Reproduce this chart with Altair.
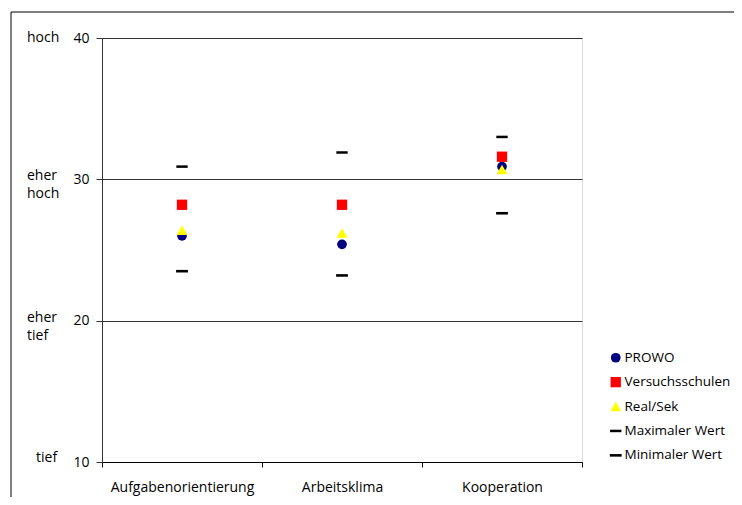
import altair as alt
import pandas as pd

categories = ["Aufgabenorientierung", "Arbeitsklima", "Kooperation"]
series_names = ["PROWO", "Versuchsschulen", "Real/Sek", "Maximaler Wert", "Minimaler Wert"]
prowo = [26.0, 25.4, 30.9]
versuchsschulen = [28.2, 28.2, 31.6]
realsek = [26.4, 26.2, 30.7]
maximaler = [30.9, 31.9, 33.0]
minimaler = [23.5, 23.2, 27.6]

y_ticks = [10, 20, 30, 40]
level_top_value = [40]
level_top_label = ["hoch"]
level_mid_values = [30, 20]
level_mid_labels = ["eher\nhoch", "eher\ntief"]
level_bottom_value = [10]
level_bottom_label = ["tief"]

colors = ["#000080", "#FF0000", "#FFFF00", "#000000", "#000000"]
dash = "M-1,-0.22H1V0.22H-1Z"
shapes = ["circle", "square", "triangle-up", dash, dash]
sizes = [95, 140, 150, 170, 170]

rows = []
for name, vals in zip(series_names, [prowo, versuchsschulen, realsek, maximaler, minimaler]):
    for c, v in zip(categories, vals):
        rows.append({"Kategorie": c, "Serie": name, "Wert": v})
df = pd.DataFrame(rows)

FONT = "Open Sans"

yscale = alt.Scale(domain=[10, 40], nice=False, zero=False)
xscale = alt.Scale(domain=categories, paddingInner=0, paddingOuter=0)

legend_opts = dict(title=None, orient="none", legendX=507, legendY=313,
                   labelFontSize=13.5, labelFont=FONT, labelColor="#000000",
                   symbolSize=140, rowPadding=9.4, labelOffset=2,
                   padding=0, symbolStrokeWidth=0)

points = alt.Chart(df).mark_point(filled=True, opacity=1, strokeWidth=0).encode(
    x=alt.X("Kategorie:N", scale=xscale, sort=categories,
            axis=alt.Axis(title=None, labelAngle=0, tickBand="extent", tickSize=5,
                          labelPadding=13, labelFontSize=14, labelColor="#000000",
                          labelFont=FONT, domainColor="#000000", tickColor="#000000",
                          grid=False)),
    y=alt.Y("Wert:Q", scale=yscale,
            axis=alt.Axis(title=None, values=y_ticks, tickSize=6, labelPadding=7,
                          labelFontSize=14, labelColor="#000000", labelFont=FONT,
                          domainColor="#333333", tickColor="#333333",
                          grid=True, gridColor="#333333", gridOpacity=1, gridWidth=1)),
    color=alt.Color("Serie:N", scale=alt.Scale(domain=series_names, range=colors),
                    legend=alt.Legend(**legend_opts)),
    shape=alt.Shape("Serie:N", scale=alt.Scale(domain=series_names, range=shapes),
                    legend=alt.Legend(**legend_opts)),
    size=alt.Size("Serie:N", scale=alt.Scale(domain=series_names, range=sizes), legend=None),
)

top_df = pd.DataFrame({"v": level_top_value, "t": level_top_label})
mid_df = pd.DataFrame({"v": level_mid_values, "t": level_mid_labels})
bot_df = pd.DataFrame({"v": level_bottom_value, "t": level_bottom_label})

top_text = alt.Chart(top_df).mark_text(align="left", baseline="middle", fontSize=14,
                                       font=FONT, color="#000000").encode(
    x=alt.value(-75), y=alt.Y("v:Q", scale=yscale), text="t:N")
mid_text = alt.Chart(mid_df).mark_text(align="left", baseline="middle", fontSize=14,
                                       font=FONT, color="#000000", lineBreak="\n",
                                       lineHeight=18, dy=-3).encode(
    x=alt.value(-75), y=alt.Y("v:Q", scale=yscale), text="t:N")
bot_text = alt.Chart(bot_df).mark_text(align="left", baseline="middle", fontSize=14,
                                       font=FONT, color="#000000", dy=-4).encode(
    x=alt.value(-66), y=alt.Y("v:Q", scale=yscale), text="t:N")

border = alt.Chart(pd.DataFrame({"a": [0]})).mark_rect(
    fillOpacity=0, stroke="#000000", strokeWidth=1).encode(
    x=alt.value(-91), x2=alt.value(700), y=alt.value(-26), y2=alt.value(600))

chart = alt.layer(border, points, top_text, mid_text, bot_text).properties(
    width=480, height=424,
    autosize=alt.AutoSizeParams(type="none"),
    padding={"left": 94, "top": 30, "right": 152, "bottom": 35},
).configure_view(stroke=None).configure(background="white")

chart.save("out.html", embed_options={"renderer": "svg", "actions": False})
